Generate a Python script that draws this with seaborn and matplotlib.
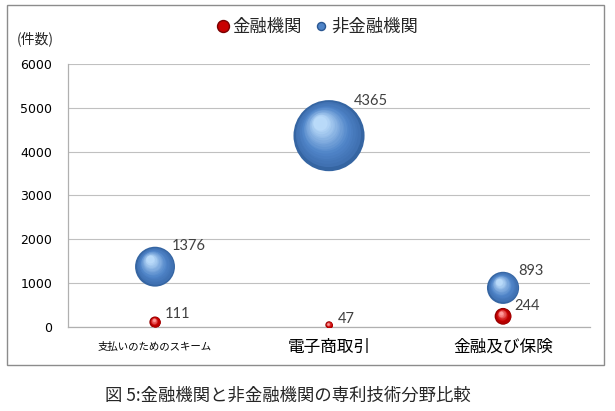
import numpy as np
import pandas as pd
import matplotlib
matplotlib.use("Agg")
import matplotlib.pyplot as plt
import matplotlib.patches as mpatches
from matplotlib.lines import Line2D
from matplotlib.transforms import offset_copy
import seaborn as sns

categories = ["支払いのためのスキーム", "電子商取引", "金融及び保険"]
series_names = ["金融機関", "非金融機関"]
financial = [111, 47, 244]
non_financial = [1376, 4365, 893]
yticks = [0, 1000, 2000, 3000, 4000, 5000, 6000]
caption = "図 5:金融機関と非金融機関の専利技術分野比較"

# colour stops: edge, body, highlight
RED = ["#7a0000", "#c80000", "#ff9a9a"]
BLUE = ["#2a5792", "#4f84c8", "#b9daf9"]
SIZE_K = 0.6  # bubble area (pt^2) per case

df = pd.DataFrame({
    "pos": list(range(1, 4)) * 2,
    "value": financial + non_financial,
    "series": [series_names[0]] * 3 + [series_names[1]] * 3,
})

sns.set_theme(style="white")
plt.rcParams["font.family"] = ["Noto Sans CJK JP", "DejaVu Sans"]

fig = plt.figure(figsize=(6.15, 4.11), dpi=100)
ax = fig.add_axes([0.1106, 0.2044, 0.8488, 0.6399])

# chart frame
fig.patches.append(mpatches.Rectangle((7 / 615, 1 - 365 / 411), 597 / 615, 360 / 411,
                                      transform=fig.transFigure, fill=False,
                                      edgecolor="#8c8c8c", lw=1.0))


def blend(stops, t):
    c = [np.array(matplotlib.colors.to_rgb(s)) for s in stops]
    if t < 0.5:
        return c[0] + (c[1] - c[0]) * (t / 0.5)
    return c[1] + (c[2] - c[1]) * ((t - 0.5) / 0.5)


def shade(x, y, stops, z):
    s = y * SIZE_K
    r = np.sqrt(s) / 2
    n = 18
    for i in range(1, n):
        t = i / (n - 1)
        f = 1 - 0.8 * t ** 0.8
        tr = offset_copy(ax.transData, fig=fig, x=-(1 - f) * r * 0.3,
                         y=(1 - f) * r * 0.45, units="points")
        ax.scatter([x], [y], s=s * f * f, color=blend(stops, 0.25 + 0.75 * t),
                   lw=0, transform=tr, zorder=z + i * 0.01)


sns.scatterplot(data=df, x="pos", y="value", hue="series", size="value",
                sizes=(0, 4365 * SIZE_K), size_norm=(0, 4365),
                palette=[blend(RED, 0.15), blend(BLUE, 0.15)], linewidth=0,
                legend=False, ax=ax, zorder=3)

for i in range(3):
    shade(i + 1, non_financial[i], BLUE, 4)
    shade(i + 1, financial[i], RED, 5)

for vals in (financial, non_financial):
    for i, v in enumerate(vals):
        r = np.sqrt(v * SIZE_K) / 2
        ax.annotate(str(v), (i + 1, v), xytext=(0.5 * r + 5, 0.9 * r + 2),
                    textcoords="offset points", ha="left", va="center",
                    fontfamily="Lato", fontsize=10.5, color="#404040", zorder=10)

ax.set_xlim(0.5, 3.5)
ax.set_ylim(0, 6000)
ax.set_yticks(yticks)
ax.set_yticklabels([str(t) for t in yticks], fontfamily="DejaVu Sans", fontsize=9)
ax.set_xticks([1, 2, 3])
ax.set_xticklabels(categories)
for lab, fs in zip(ax.get_xticklabels(), [7.5, 12, 12]):
    lab.set_fontsize(fs)
    lab.set_va("center")
ax.tick_params(axis="x", length=0, pad=14.4, colors="black")
ax.tick_params(axis="y", length=4.3, width=0.8, color="#b0b0b0", pad=7, labelcolor="black")
ax.set_xlabel("")
ax.set_ylabel("")
ax.grid(axis="y", color="#c0c0c0", lw=0.8)
ax.set_axisbelow(True)
for side in ("top", "right"):
    ax.spines[side].set_visible(False)
for side in ("left", "bottom"):
    ax.spines[side].set_color("#b0b0b0")
    ax.spines[side].set_linewidth(0.9)

fig.text(17 / 615, 1 - 39 / 411, "(件数)", fontsize=10, ha="left", va="center")

handles = [Line2D([], [], ls="", marker="o", markersize=8.6, color=RED[1], mec=RED[0]),
           Line2D([], [], ls="", marker="o", markersize=5.8, color=BLUE[1], mec=BLUE[0])]
fig.legend(handles, series_names, loc="center", bbox_to_anchor=(0.514, 0.934),
           ncol=2, frameon=False, fontsize=12.5, handletextpad=0.05,
           columnspacing=0.6, handlelength=1.0, borderaxespad=0)

fig.text(0.4675, 1 - 396 / 411, caption, fontsize=12.5, ha="center", va="center")

fig.savefig("out.png", dpi=100)
